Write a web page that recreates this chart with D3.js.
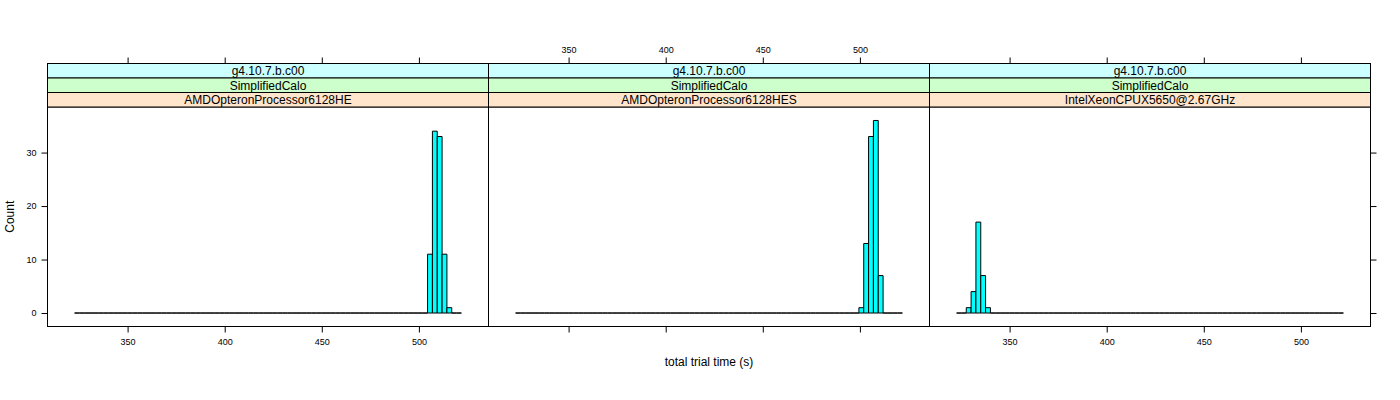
<!DOCTYPE html>
<html>
<head>
<meta charset="utf-8">
<script src="https://cdn.jsdelivr.net/npm/d3@7"></script>
<style>
  html, body { margin: 0; padding: 0; background: #ffffff; }
  svg { display: block; font-family: "Liberation Sans", Arial, Helvetica, sans-serif; }
</style>
</head>
<body>
<svg id="chart" width="1400" height="400"></svg>
<script>
// ---- data ----
const processors = ["AMDOpteronProcessor6128HE", "AMDOpteronProcessor6128HES", "IntelXeonCPUX5650@2.67GHz"];
const versionLabels = ["g4.10.7.b.c00", "g4.10.7.b.c00", "g4.10.7.b.c00"];
const physicsLabels = ["SimplifiedCalo", "SimplifiedCalo", "SimplifiedCalo"];
// histogram breaks (shared by all panels)
const breaksMin = 322.7;
const breaksMax = 521.9;
const binCount = 80;
// first non-empty bin index and counts per panel
const firstBin = [73, 71, 2];
const panelCounts = [
  [11, 34, 33, 11, 1],
  [1, 13, 33, 36, 7],
  [1, 4, 17, 7, 1]
];
const xTicks = [350, 400, 450, 500];
const yTicks = [0, 10, 20, 30];
const xLabel = "total trial time (s)";
const yLabel = "Count";
const countMax = 36;

// ---- layout ----
const svg = d3.select("#chart");
const panelEdges = [47.5, 488.5, 929.5, 1370.5];
const stripTop = 63.5, stripH = 14.5;
const plotTop = stripTop + 3 * stripH; // 107
const plotBottom = 326.5;
const stripColors = ["#ccffff", "#ccffcc", "#ffe5cc"];
const tickLen = 6;
const tickFont = "9px";

const pad = 0.07;
const xr = breaksMax - breaksMin;
const xDomain = [breaksMin - pad * xr, breaksMax + pad * xr];
const yDomain = [0 - pad * countMax, countMax + pad * countMax];
const y = d3.scaleLinear().domain(yDomain).range([plotBottom, plotTop]);

const binWidth = (breaksMax - breaksMin) / binCount;
const breaks = d3.range(binCount + 1).map(i => breaksMin + i * binWidth);

processors.forEach((proc, p) => {
  const x0 = panelEdges[p], x1 = panelEdges[p + 1];
  const x = d3.scaleLinear().domain(xDomain).range([x0, x1]);
  const g = svg.append("g");

  // histogram bins (zero-height bins draw as a flat line)
  const counts = d3.range(binCount).map(i => {
    const k = i - firstBin[p];
    return (k >= 0 && k < panelCounts[p].length) ? panelCounts[p][k] : 0;
  });
  const bins = counts.map((c, i) => ({ lo: breaks[i], hi: breaks[i + 1], c }));
  g.selectAll("path.bar").data(bins).enter().append("path")
    .attr("class", "bar")
    .attr("d", d => {
      const a = x(d.lo), b = x(d.hi), yb = y(0), yt = y(d.c);
      return `M${a},${yb}H${b}V${yt}H${a}Z`;
    })
    .attr("fill", d => d.c > 0 ? "#00ffff" : "none")
    .attr("stroke", "#000")
    .attr("stroke-width", 1);

  // panel box
  g.append("rect")
    .attr("x", x0).attr("y", plotTop)
    .attr("width", x1 - x0).attr("height", plotBottom - plotTop)
    .attr("fill", "none").attr("stroke", "#000").attr("stroke-width", 1);

  // strips
  const stripTexts = [versionLabels[p], physicsLabels[p], proc];
  stripTexts.forEach((t, s) => {
    const sy = stripTop + s * stripH;
    g.append("rect")
      .attr("x", x0).attr("y", sy).attr("width", x1 - x0).attr("height", stripH)
      .attr("fill", stripColors[s]).attr("stroke", "#000").attr("stroke-width", 1);
    g.append("text")
      .attr("x", (x0 + x1) / 2).attr("y", sy + stripH / 2 + 4.3)
      .attr("text-anchor", "middle")
      .attr("font-size", "12px")
      .attr("fill", "#000")
      .text(t);
  });

  // bottom axis: ticks on all panels, labels on 1 and 3
  const bottomLabels = (p !== 1);
  const bAxis = d3.axisBottom(x).tickValues(xTicks).tickSize(tickLen).tickPadding(6)
    .tickFormat(bottomLabels ? d3.format("d") : () => "");
  const bg = g.append("g").attr("transform", `translate(0,${plotBottom})`).call(bAxis);
  // top axis: ticks on all panels, labels on 2
  const topLabels = (p === 1);
  const tAxis = d3.axisTop(x).tickValues(xTicks).tickSize(tickLen).tickPadding(5)
    .tickFormat(topLabels ? d3.format("d") : () => "");
  const tg = g.append("g").attr("transform", `translate(0,${stripTop})`).call(tAxis);
  [bg, tg].forEach(ax => {
    ax.select(".domain").remove();
    ax.selectAll("text").attr("font-size", tickFont).attr("font-family", "Liberation Sans, Arial, sans-serif").attr("fill", "#000");
    ax.selectAll("line").attr("stroke", "#000");
  });

  if (p === 0) {
    const lAxis = d3.axisLeft(y).tickValues(yTicks).tickSize(tickLen).tickPadding(5).tickFormat(d3.format("d"));
    const lg = g.append("g").attr("transform", `translate(${x0},0)`).call(lAxis);
    lg.select(".domain").remove();
    lg.selectAll("text").attr("font-size", tickFont).attr("font-family", "Liberation Sans, Arial, sans-serif").attr("fill", "#000");
    lg.selectAll("line").attr("stroke", "#000");
  }
  if (p === processors.length - 1) {
    const rAxis = d3.axisRight(y).tickValues(yTicks).tickSize(tickLen).tickFormat(() => "");
    const rg = g.append("g").attr("transform", `translate(${x1},0)`).call(rAxis);
    rg.select(".domain").remove();
    rg.selectAll("line").attr("stroke", "#000");
  }
});

// axis titles
svg.append("text")
  .attr("x", (panelEdges[0] + panelEdges[3]) / 2).attr("y", 366)
  .attr("text-anchor", "middle").attr("font-size", "12px").attr("fill", "#000")
  .text(xLabel);
svg.append("text")
  .attr("transform", `translate(14,${(plotTop + plotBottom) / 2}) rotate(-90)`)
  .attr("text-anchor", "middle").attr("font-size", "12px").attr("fill", "#000")
  .text(yLabel);
</script>
</body>
</html>
